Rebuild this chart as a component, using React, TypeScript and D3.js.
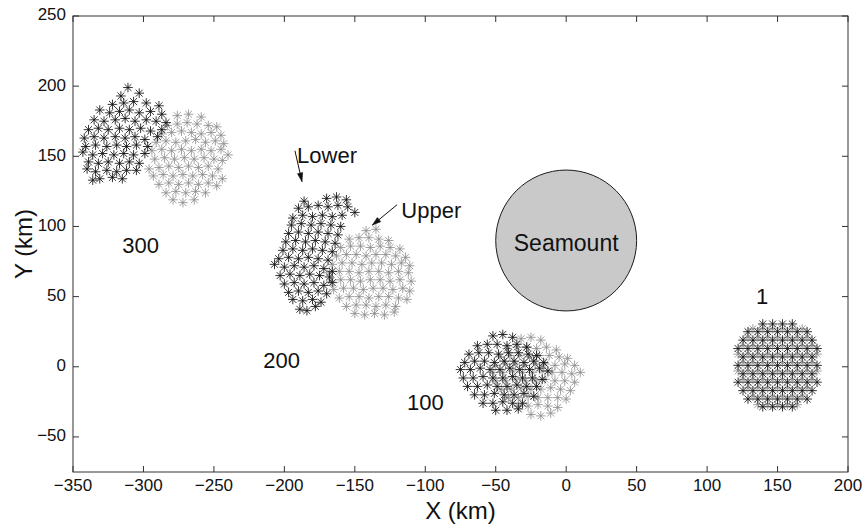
import React from "react";
import * as d3 from "d3";

// ---------- data (km) ----------
const xTicks = [-350, -300, -250, -200, -150, -100, -50, 0, 50, 100, 150, 200];
const yTicks = [-50, 0, 50, 100, 150, 200, 250];

// day 300
const day300Lower: [number, number][] = [
  [-311, 199],
  [-316, 193], [-303, 195],
  [-322, 187], [-314, 188], [-307, 189], [-298, 188], [-289, 186],
  [-331, 183], [-324, 181], [-317, 182], [-310, 183], [-303, 181], [-295, 182], [-287, 180],
  [-335, 176], [-328, 175], [-320, 176], [-313, 177], [-306, 175], [-298, 176], [-291, 175], [-284, 174],
  [-339, 169], [-332, 170], [-325, 169], [-317, 170], [-310, 169], [-302, 170], [-295, 168], [-287, 169],
  [-342, 163], [-335, 164], [-328, 163], [-320, 164], [-313, 163], [-306, 164], [-299, 162], [-290, 164],
  [-341, 157], [-334, 158], [-326, 157], [-319, 158], [-312, 157], [-305, 158], [-297, 157],
  [-343, 153], [-336, 151], [-329, 152], [-321, 151], [-314, 152], [-307, 151], [-299, 152],
  [-339, 146], [-332, 145], [-325, 146], [-317, 145], [-310, 146], [-303, 145],
  [-340, 141], [-334, 139], [-326, 140], [-319, 139], [-312, 140], [-305, 140],
  [-336, 133], [-331, 134], [-322, 135], [-315, 134],
];
const day300Upper: [number, number][] = [
  [-276, 179], [-268, 180], [-259, 178],
  [-283, 172], [-276, 173], [-269, 174], [-262, 173], [-254, 172], [-248, 171],
  [-287, 166], [-280, 167], [-273, 168], [-266, 167], [-259, 166], [-252, 167], [-245, 165],
  [-291, 160], [-284, 161], [-277, 160], [-270, 161], [-263, 162], [-256, 160], [-249, 161], [-243, 159],
  [-294, 154], [-287, 155], [-280, 154], [-273, 155], [-266, 154], [-259, 155], [-252, 154], [-245, 155], [-240, 151],
  [-292, 148], [-285, 149], [-278, 148], [-271, 149], [-264, 148], [-257, 149], [-250, 148], [-244, 147],
  [-296, 141], [-289, 142], [-282, 143], [-275, 142], [-268, 143], [-261, 142], [-254, 143], [-247, 141],
  [-293, 136], [-286, 137], [-279, 136], [-272, 137], [-265, 136], [-258, 137], [-251, 136], [-244, 134],
  [-289, 130], [-282, 131], [-275, 130], [-268, 131], [-261, 130], [-254, 131], [-248, 129],
  [-284, 124], [-277, 125], [-270, 124], [-263, 125], [-256, 124],
  [-279, 119], [-272, 117], [-264, 119],
];

// day 200
const day200Lower: [number, number][] = [
  [-186, 118], [-170, 120], [-163, 121], [-156, 119],
  [-190, 113], [-183, 114], [-176, 115], [-169, 114], [-162, 115], [-155, 114], [-150, 110],
  [-194, 106], [-187, 108], [-180, 107], [-173, 108], [-166, 107], [-159, 108],
  [-195, 101], [-188, 102], [-181, 101], [-174, 102], [-167, 101], [-160, 100],
  [-197, 95], [-190, 96], [-183, 95], [-176, 96], [-169, 95], [-162, 94],
  [-199, 89], [-192, 90], [-185, 89], [-178, 90], [-171, 89], [-164, 88],
  [-201, 83], [-194, 84], [-187, 83], [-180, 84], [-173, 83], [-166, 82],
  [-204, 77], [-197, 78], [-190, 77], [-183, 78], [-176, 77], [-169, 76],
  [-207, 73], [-200, 71], [-193, 72], [-186, 71], [-179, 72], [-172, 70], [-166, 68],
  [-203, 65], [-196, 66], [-189, 65], [-182, 66], [-175, 65], [-168, 64],
  [-200, 59], [-193, 60], [-186, 59], [-179, 60], [-172, 58], [-166, 60],
  [-197, 53], [-190, 54], [-183, 53], [-176, 54], [-170, 52],
  [-194, 48], [-187, 47], [-180, 48], [-174, 46],
  [-189, 41], [-184, 40], [-178, 43],
];
const day200Upper: [number, number][] = [
  [-142, 97], [-135, 98],
  [-154, 91], [-147, 92], [-140, 92], [-133, 91], [-126, 90],
  [-160, 85], [-153, 86], [-146, 86], [-139, 85], [-132, 86], [-125, 85], [-118, 84],
  [-163, 79], [-156, 80], [-149, 80], [-142, 79], [-135, 80], [-128, 80], [-121, 79], [-114, 78],
  [-166, 73], [-159, 74], [-152, 74], [-145, 73], [-138, 74], [-131, 74], [-124, 73], [-117, 74], [-111, 72],
  [-168, 67], [-161, 68], [-154, 68], [-147, 67], [-140, 68], [-133, 68], [-126, 67], [-119, 68], [-112, 67],
  [-167, 61], [-160, 62], [-153, 62], [-146, 61], [-139, 62], [-132, 62], [-125, 61], [-118, 62], [-110, 61],
  [-165, 55], [-158, 56], [-151, 56], [-144, 55], [-137, 56], [-130, 56], [-123, 55], [-116, 56], [-111, 54],
  [-161, 49], [-154, 50], [-147, 50], [-140, 49], [-133, 50], [-126, 50], [-119, 49], [-113, 48],
  [-156, 43], [-149, 44], [-142, 44], [-135, 43], [-128, 44], [-121, 43],
  [-150, 38], [-143, 37], [-136, 38], [-129, 37], [-122, 39],
];

// day 100
const day100Lower: [number, number][] = [
  [-52, 22], [-45, 23], [-38, 21],
  [-63, 15], [-56, 16], [-49, 16], [-42, 15], [-35, 16], [-28, 14],
  [-69, 9], [-62, 10], [-55, 10], [-48, 9], [-41, 10], [-34, 10], [-27, 9], [-21, 8],
  [-72, 3], [-65, 4], [-58, 4], [-51, 3], [-44, 4], [-37, 4], [-30, 3], [-23, 4], [-16, 3],
  [-75, -2], [-68, -2], [-61, -1], [-54, -2], [-47, -2], [-40, -1], [-33, -2], [-26, -2], [-19, -1], [-13, -3],
  [-73, -8], [-66, -8], [-59, -7], [-52, -8], [-45, -8], [-38, -7], [-31, -8], [-24, -8], [-17, -9],
  [-70, -14], [-63, -14], [-56, -13], [-49, -14], [-42, -14], [-35, -13], [-28, -14], [-21, -14],
  [-65, -20], [-58, -20], [-51, -19], [-44, -20], [-37, -20], [-30, -19], [-23, -21],
  [-59, -26], [-52, -26], [-45, -25], [-38, -26], [-31, -26],
  [-50, -31], [-42, -31], [-34, -30],
];
const day100Upper: [number, number][] = [
  [-32, 20], [-25, 21], [-18, 19],
  [-42, 13], [-35, 14], [-28, 14], [-21, 13], [-14, 14], [-7, 12],
  [-47, 7], [-40, 8], [-33, 8], [-26, 7], [-19, 8], [-12, 8], [-5, 7], [1, 6],
  [-50, 1], [-43, 2], [-36, 2], [-29, 1], [-22, 2], [-15, 2], [-8, 1], [-1, 2], [6, 1],
  [-52, -4], [-45, -4], [-38, -3], [-31, -4], [-24, -4], [-17, -3], [-10, -4], [-3, -4], [4, -5], [10, -4],
  [-50, -10], [-43, -10], [-36, -9], [-29, -10], [-22, -10], [-15, -9], [-8, -10], [-1, -10], [6, -11],
  [-46, -16], [-39, -16], [-32, -15], [-25, -16], [-18, -16], [-11, -15], [-4, -16], [3, -17],
  [-41, -22], [-34, -22], [-27, -21], [-20, -22], [-13, -22], [-6, -22], [0, -23],
  [-34, -28], [-27, -28], [-20, -27], [-13, -28], [-6, -29],
  [-25, -34], [-18, -35], [-11, -33],
];

// day 1 (initial lattice)
const day1Lower: [number, number][] = [
  [139.5, 30.5], [146.5, 30.5], [153.5, 30.5], [160.5, 30.5],
  [129, 25], [136, 25], [143, 25], [150, 25], [157, 25], [164, 25], [171, 25],
  [125.5, 19], [132.5, 19], [139.5, 19], [146.5, 19], [153.5, 19], [160.5, 19], [167.5, 19], [174.5, 19],
  [122, 13], [129, 13], [136, 13], [143, 13], [150, 13], [157, 13], [164, 13], [171, 13], [178, 13],
  [125.5, 7], [132.5, 7], [139.5, 7], [146.5, 7], [153.5, 7], [160.5, 7], [167.5, 7], [174.5, 7],
  [122, 1], [129, 1], [136, 1], [143, 1], [150, 1], [157, 1], [164, 1], [171, 1], [178, 1],
  [125.5, -5], [132.5, -5], [139.5, -5], [146.5, -5], [153.5, -5], [160.5, -5], [167.5, -5], [174.5, -5],
  [122, -11], [129, -11], [136, -11], [143, -11], [150, -11], [157, -11], [164, -11], [171, -11], [178, -11],
  [125.5, -17], [132.5, -17], [139.5, -17], [146.5, -17], [153.5, -17], [160.5, -17], [167.5, -17], [174.5, -17],
  [129, -23], [136, -23], [143, -23], [150, -23], [157, -23], [164, -23], [171, -23],
  [139.5, -28.5], [146.5, -28.5], [153.5, -28.5], [160.5, -28.5],
];
const day1Upper: [number, number][] = [
  [132.5, 27], [139.5, 27], [146.5, 27], [153.5, 27], [160.5, 27], [167.5, 27],
  [129, 21], [136, 21], [143, 21], [150, 21], [157, 21], [164, 21], [171, 21],
  [125.5, 15], [132.5, 15], [139.5, 15], [146.5, 15], [153.5, 15], [160.5, 15], [167.5, 15], [174.5, 15],
  [122, 9], [129, 9], [136, 9], [143, 9], [150, 9], [157, 9], [164, 9], [171, 9], [178, 9],
  [125.5, 3], [132.5, 3], [139.5, 3], [146.5, 3], [153.5, 3], [160.5, 3], [167.5, 3], [174.5, 3],
  [122, -3], [129, -3], [136, -3], [143, -3], [150, -3], [157, -3], [164, -3], [171, -3], [178, -3],
  [125.5, -9], [132.5, -9], [139.5, -9], [146.5, -9], [153.5, -9], [160.5, -9], [167.5, -9], [174.5, -9],
  [129, -15], [136, -15], [143, -15], [150, -15], [157, -15], [164, -15], [171, -15],
  [132.5, -21], [139.5, -21], [146.5, -21], [153.5, -21], [160.5, -21], [167.5, -21],
  [136, -27], [143, -27], [150, -27], [157, -27], [164, -27],
];

const lowerSets = [day300Lower, day200Lower, day100Lower, day1Lower];
const upperSets = [day300Upper, day200Upper, day100Upper, day1Upper];

// seamount: center and radius (km)
const seamount = { x: 0, y: 90, r: 50, label: "Seamount", labelY: 87 };

const dayLabels = [
  { text: "300", x: -302, y: 85 },
  { text: "200", x: -202, y: 3 },
  { text: "100", x: -100, y: -27 },
  { text: "1", x: 139, y: 49 },
];

const annotations = [
  { text: "Lower", x: -191, y: 149.5, from: [-192.5, 154], to: [-187.5, 132] },
  { text: "Upper", x: -117, y: 110.5, from: [-120, 115.5], to: [-137.5, 101] },
];

// ---------- layout ----------
const W = 865;
const H = 525;
const M = { left: 73, right: 17, top: 16, bottom: 53 };
const FONT = "'Liberation Sans', Arial, Helvetica, sans-serif";

const x = d3.scaleLinear().domain([-350, 200]).range([M.left, W - M.right]);
const y = d3.scaleLinear().domain([-75, 250]).range([H - M.bottom, M.top]);

function starPath(pts: [number, number][], r: number): string {
  const d = r * 0.72;
  let s = "";
  for (const [px, py] of pts) {
    const cx = x(px);
    const cy = y(py);
    s += `M${cx - r},${cy}h${2 * r}M${cx},${cy - r}v${2 * r}`;
    s += `M${cx - d},${cy - d}l${2 * d},${2 * d}M${cx - d},${cy + d}l${2 * d},${-2 * d}`;
  }
  return s;
}

function fmt(v: number): string {
  return v < 0 ? `\u2212${Math.abs(v)}` : `${v}`;
}

function Arrow({ from, to }: { from: number[]; to: number[] }) {
  const x1 = x(from[0]);
  const y1 = y(from[1]);
  const x2 = x(to[0]);
  const y2 = y(to[1]);
  const ang = Math.atan2(y2 - y1, x2 - x1);
  const L = 9;
  const a = 0.3;
  const p1 = [x2 - L * Math.cos(ang - a), y2 - L * Math.sin(ang - a)];
  const p2 = [x2 - L * Math.cos(ang + a), y2 - L * Math.sin(ang + a)];
  return (
    <g>
      <line x1={x1} y1={y1} x2={x2} y2={y2} stroke="#111" strokeWidth={1} />
      <path d={`M${x2},${y2}L${p1[0]},${p1[1]}L${p2[0]},${p2[1]}Z`} fill="#111" stroke="#111" strokeWidth={0.6} />
    </g>
  );
}

export default function App() {
  const x0 = M.left;
  const x1 = W - M.right;
  const y0 = M.top;
  const y1 = H - M.bottom;
  const tickLen = 6;
  return (
    <svg
      width={W}
      height={H}
      viewBox={`0 0 ${W} ${H}`}
      style={{ position: "absolute", left: 0, top: 0, background: "#fff" }}
      fontFamily={FONT}
    >
      <rect x={0} y={0} width={W} height={H} fill="#fff" />

      {/* seamount */}
      <circle
        cx={x(seamount.x)}
        cy={y(seamount.y)}
        r={x(seamount.r) - x(0)}
        fill="#c9c9c9"
        stroke="#1a1a1a"
        strokeWidth={1}
      />
      <text
        x={x(seamount.x)}
        y={y(seamount.labelY)}
        textAnchor="middle"
        dominantBaseline="middle"
        fontSize={23}
        fill="#111"
      >
        {seamount.label}
      </text>

      {/* floats: upper (gray) first, lower (black) on top */}
      {upperSets.map((s, i) => (
        <path key={`u${i}`} d={starPath(s, 4.8)} stroke="#8a8a8a" strokeWidth={0.8} fill="none" />
      ))}
      {lowerSets.map((s, i) => (
        <path key={`l${i}`} d={starPath(s, 4.8)} stroke="#111" strokeWidth={0.85} fill="none" />
      ))}

      {/* day labels */}
      {dayLabels.map((l) => (
        <text
          key={l.text}
          x={x(l.x)}
          y={y(l.y)}
          textAnchor="middle"
          dominantBaseline="middle"
          fontSize={22}
          fill="#111"
        >
          {l.text}
        </text>
      ))}

      {/* annotations */}
      {annotations.map((a) => (
        <g key={a.text}>
          <text x={x(a.x)} y={y(a.y)} dominantBaseline="middle" fontSize={22} fill="#111">
            {a.text}
          </text>
          <Arrow from={a.from} to={a.to} />
        </g>
      ))}

      {/* frame */}
      <rect x={x0} y={y0} width={x1 - x0} height={y1 - y0} fill="none" stroke="#333" strokeWidth={1} />

      {/* x ticks */}
      {xTicks.map((t) => (
        <g key={`xt${t}`}>
          <line x1={x(t)} x2={x(t)} y1={y1} y2={y1 - tickLen} stroke="#333" />
          <line x1={x(t)} x2={x(t)} y1={y0} y2={y0 + tickLen} stroke="#333" />
          <text x={x(t)} y={y1 + 19} textAnchor="middle" fontSize={17} fill="#111">
            {fmt(t)}
          </text>
        </g>
      ))}
      {/* y ticks */}
      {yTicks.map((t) => (
        <g key={`yt${t}`}>
          <line x1={x0} x2={x0 + tickLen} y1={y(t)} y2={y(t)} stroke="#333" />
          <line x1={x1} x2={x1 - tickLen} y1={y(t)} y2={y(t)} stroke="#333" />
          <text x={x0 - 7} y={y(t)} textAnchor="end" dominantBaseline="middle" fontSize={17} fill="#111">
            {fmt(t)}
          </text>
        </g>
      ))}

      {/* axis titles */}
      <text x={(x0 + x1) / 2} y={H - 6} textAnchor="middle" fontSize={24} fill="#111">
        X (km)
      </text>
      <text
        transform={`translate(${26},${(y0 + y1) / 2}) rotate(-90)`}
        textAnchor="middle"
        dominantBaseline="middle"
        fontSize={24}
        fill="#111"
      >
        Y (km)
      </text>
    </svg>
  );
}
